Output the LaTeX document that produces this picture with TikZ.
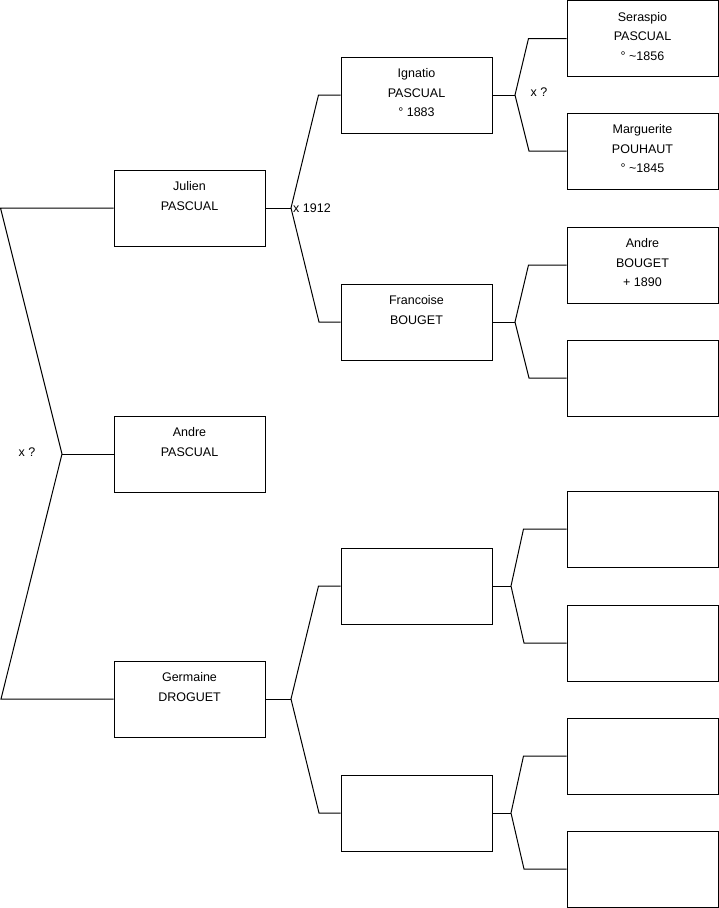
\documentclass[tikz,border=0pt]{standalone}
\usepackage{fontspec}
\setmainfont{Liberation Sans}
\usetikzlibrary{positioning}

\tikzset{
  person/.style={draw, line width=1pt, minimum width=151, minimum height=76, inner sep=0},
  names/.style={font=\fontsize{12.5}{19.5}\selectfont, align=center, anchor=north, inner sep=0},
  union/.style={font=\fontsize{12.5}{15}\selectfont, inner sep=0},
  link/.style={line width=1pt}
}

\begin{document}
\begin{tikzpicture}[x=1pt, y=-1pt]
    \useasboundingbox (0,0) rectangle (719,908);

    % generation 1
    \node[person] (julien) at (189.5,208) {};
    \node[person] (andre) at (189.5,454) {};
    \node[person] (germaine) at (189.5,699) {};

    % generation 2
    \node[person] (ignatio) at (416.5,95) {};
    \node[person] (francoise) at (416.5,322) {};
    \node[person] (blanka) at (416.5,586) {};
    \node[person] (blankb) at (416.5,813) {};

    % generation 3
    \node[person] (seraspio) at (642.5,38.5) {};
    \node[person] (marguerite) at (642.5,151) {};
    \node[person] (andreb) at (642.5,265) {};
    \node[person] (blankc) at (642.5,378) {};
    \node[person] (blankd) at (642.5,529) {};
    \node[person] (blanke) at (642.5,643) {};
    \node[person] (blankf) at (642.5,756) {};
    \node[person] (blankg) at (642.5,869) {};

    % names
    \node[names] (julienname) at ([yshift=-12pt]julien.north) {Julien\\PASCUAL};
    \node[names] (andrename) at ([yshift=-12pt]andre.north) {Andre\\PASCUAL};
    \node[names] (germainename) at ([yshift=-12pt]germaine.north) {Germaine\\DROGUET};
    \node[names] (ignationame) at ([yshift=-12pt]ignatio.north) {Ignatio\\PASCUAL\\° 1883};
    \node[names] (francoisename) at ([yshift=-12pt]francoise.north) {Francoise\\BOUGET};
    \node[names] (seraspioname) at ([yshift=-12pt]seraspio.north) {Seraspio\\PASCUAL\\° \textasciitilde1856};
    \node[names] (margueritename) at ([yshift=-12pt]marguerite.north) {Marguerite\\POUHAUT\\° \textasciitilde1845};
    \node[names] (andrebname) at ([yshift=-12pt]andreb.north) {Andre\\BOUGET\\+ 1890};

    % forks
    \coordinate (f0) at (62,454);
    \coordinate (f1) at (291,208);
    \coordinate (f2) at (291,699);
    \coordinate (f3) at (515,95);
    \coordinate (f4) at (515,322);
    \coordinate (f5) at (511,586);
    \coordinate (f6) at (511,813);

    \draw[link] (julien.west) -- ++(-113,0) -- (f0) -- ++(-61,245) -- (germaine.west);
    \draw[link] (f0) -- (andre.west);

    \draw[link] (julien.east) -- (f1);
    \draw[link] (ignatio.west) -- ++(-22,0) -- (f1) -- ++(28,114) -- (francoise.west);
    \draw[link] (germaine.east) -- (f2);
    \draw[link] (blanka.west) -- ++(-22,0) -- (f2) -- ++(28,114) -- (blankb.west);

    \draw[link] (ignatio.east) -- (f3);
    \draw[link] (seraspio.west) -- ++(-38,0) -- (f3) -- ++(14,56) -- (marguerite.west);
    \draw[link] (francoise.east) -- (f4);
    \draw[link] (andreb.west) -- ++(-38,0) -- (f4) -- ++(14,56) -- (blankc.west);
    \draw[link] (blanka.east) -- (f5);
    \draw[link] (blankd.west) -- ++(-43,0) -- (f5) -- ++(13,57) -- (blanke.west);
    \draw[link] (blankb.east) -- (f6);
    \draw[link] (blankf.west) -- ++(-43,0) -- (f6) -- ++(13,56) -- (blankg.west);

    % marriages
    \node[union] (x0) at (27,452) {x ?};
    \node[union, anchor=west] (x1) at (293,208) {x 1912};
    \node[union] (x3) at (539,92) {x ?};
\end{tikzpicture}
\end{document}
